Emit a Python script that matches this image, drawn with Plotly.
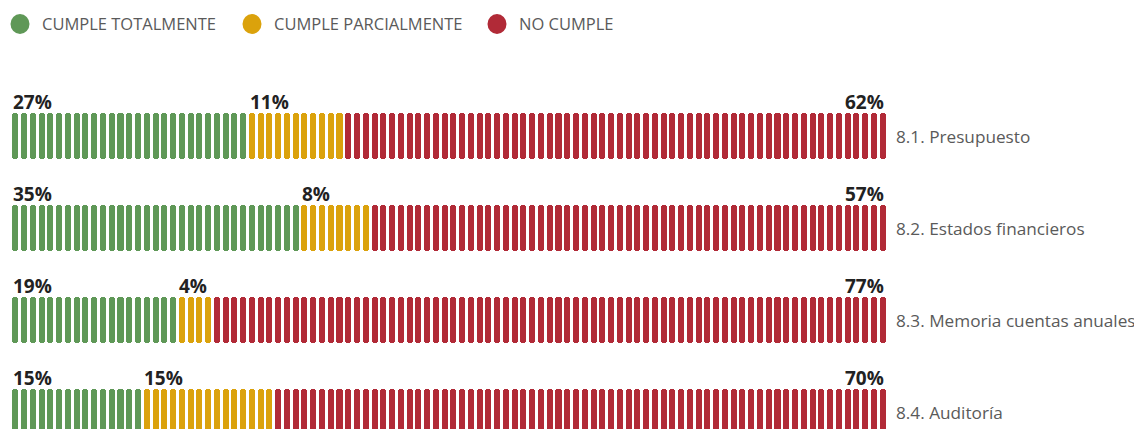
import plotly.graph_objects as go

# ---- data ----
categories = ["8.1. Presupuesto", "8.2. Estados financieros",
              "8.3. Memoria cuentas anuales", "8.4. Auditoría"]
series_names = ["CUMPLE TOTALMENTE", "CUMPLE PARCIALMENTE", "NO CUMPLE"]
# percentage labels as printed
label_totalmente = [27, 35, 19, 15]
label_parcialmente = [11, 8, 4, 15]
label_no_cumple = [62, 57, 77, 70]
# number of 1% pills drawn in each segment (as seen in the picture)
pills_totalmente = [27, 33, 19, 15]
pills_parcialmente = [11, 8, 4, 15]
pills_no_cumple = [62, 59, 77, 70]
colors = ["#5f9857", "#dba20c", "#b12a37"]

# ---- geometry (figure pixels; page body margin offsets by 8px) ----
OFF = 8
W, H = 1142, 429
L, R = 11 - OFF, 887 - OFF
ROW0, PITCH, PILL_H = 136 - OFF, 92, 46

def py_to_y(px):
    return (px - ROW0) / PITCH

half = (PILL_H / 2) / PITCH
eps = 0.03

fig = go.Figure()
pills = [pills_totalmente, pills_parcialmente, pills_no_cumple]
labels = [label_totalmente, label_parcialmente, label_no_cumple]

for s_idx, vals in enumerate(pills):
    xs, rows = [], []
    for r, _ in enumerate(categories):
        start = sum(pills[k][r] for k in range(s_idx))
        for i in range(start, start + vals[r]):
            xs.append(i + 0.5)
            rows.append(r)
    for sign in (1, -1):
        fig.add_trace(go.Bar(
            x=xs, y=[sign * (half + eps)] * len(xs),
            base=[rr - sign * eps for rr in rows],
            width=0.69, marker=dict(color=colors[s_idx], line=dict(width=0)),
            showlegend=False, hoverinfo="skip",
        ))

annotations = []
for r, cat in enumerate(categories):
    top = r - half
    start = 0
    total = sum(pills[k][r] for k in range(3))
    for s_idx in range(3):
        v = labels[s_idx][r]
        if s_idx < 2:
            annotations.append(dict(
                x=start, y=top, xref="x", yref="y", text=f"<b>{v}%</b>",
                showarrow=False, xanchor="left", yanchor="bottom", yshift=-4, xshift=0,
                font=dict(size=19, color="#222222", family="Open Sans")))
        else:
            annotations.append(dict(
                x=total, y=top, xref="x", yref="y", text=f"<b>{v}%</b>",
                showarrow=False, xanchor="right", yanchor="bottom", yshift=-4, xshift=-1,
                font=dict(size=19, color="#222222", family="Open Sans")))
        start += pills[s_idx][r]
    annotations.append(dict(
        x=total, y=r, xref="x", yref="y", text=cat, showarrow=False,
        xanchor="left", yanchor="middle", xshift=7, yshift=0,
        font=dict(size=17.2, color="#5a5a5a", family="Open Sans")))

# legend (manual)
def px_to_paper(px):
    return (px - L) / (R - L)

shapes = []
legend_circle_x = [20 - OFF, 252 - OFF, 497 - OFF]
LEG_Y = 24 - OFF
for name, col, cx in zip(series_names, colors, legend_circle_x):
    shapes.append(dict(type="circle", xref="paper", yref="paper",
                       x0=px_to_paper(cx - 9.5), x1=px_to_paper(cx + 9.5),
                       y0=1 - (LEG_Y + 10) / H, y1=1 - (LEG_Y - 10) / H,
                       fillcolor=col, line=dict(width=0)))
    annotations.append(dict(x=px_to_paper(cx + 20), y=1 - LEG_Y / H, xref="paper", yref="paper",
                            text=name, showarrow=False, xanchor="left", yanchor="middle",
                            font=dict(size=16.5, color="#5a5a5a", family="Open Sans")))

fig.update_layout(
    width=W, height=H,
    margin=dict(l=L, r=W - R, t=0, b=0),
    paper_bgcolor="white", plot_bgcolor="white",
    barmode="overlay", barcornerradius=3, bargap=0,
    xaxis=dict(range=[0, 100], visible=False, fixedrange=True),
    yaxis=dict(range=[py_to_y(H), py_to_y(0)], visible=False, fixedrange=True),
    annotations=annotations, shapes=shapes,
    showlegend=False,
)

fig.write_html("out.html")
